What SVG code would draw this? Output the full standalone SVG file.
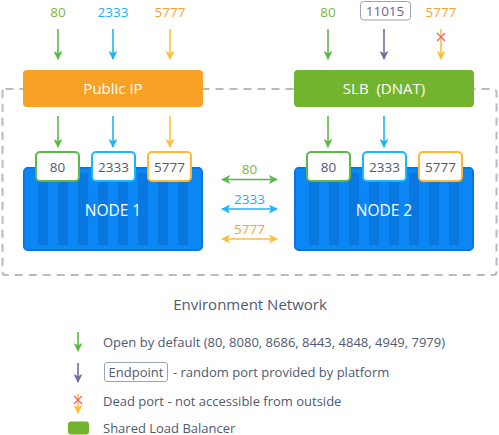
<svg xmlns="http://www.w3.org/2000/svg" width="499" height="435" viewBox="0 0 499 435">
<defs>
<style>
text{font-family:"Open Sans","Noto Sans","Liberation Sans",sans-serif;}
.lbl{font-size:13.5px;text-anchor:middle;}
.port{font-size:13.5px;text-anchor:middle;fill:#4F5A70;}
.pbox{fill:#fff;stroke-width:2;}
.node{fill:#0A86F5;stroke:#0870D8;stroke-width:1.5;}
.stripe{fill:#0877E0;}
.ntxt{font-size:15.5px;fill:#fff;text-anchor:middle;}
.btxt{font-size:15px;fill:#fff;text-anchor:middle;}
.leg{font-size:13px;fill:#4F5A70;}
.g{stroke:#5BBA47;fill:none;stroke-width:1.6;}
.b{stroke:#1EB4F8;fill:none;stroke-width:1.6;}
.o{stroke:#FFBE3A;fill:none;stroke-width:1.6;}
.p{stroke:#7B6A9E;fill:none;stroke-width:1.6;}
.x{stroke:#E8676B;stroke-width:1.3;fill:none;}
</style>
<marker id="ag" viewBox="0 0 10 10" refX="9" refY="5" markerWidth="9" markerHeight="9" orient="auto-start-reverse" markerUnits="userSpaceOnUse"><path d="M0,0 L10,5 L0,10 L2.5,5 z" fill="#5BBA47"/></marker>
<marker id="ab" viewBox="0 0 10 10" refX="9" refY="5" markerWidth="9" markerHeight="9" orient="auto-start-reverse" markerUnits="userSpaceOnUse"><path d="M0,0 L10,5 L0,10 L2.5,5 z" fill="#1EB4F8"/></marker>
<marker id="ao" viewBox="0 0 10 10" refX="9" refY="5" markerWidth="9" markerHeight="9" orient="auto-start-reverse" markerUnits="userSpaceOnUse"><path d="M0,0 L10,5 L0,10 L2.5,5 z" fill="#FFBE3A"/></marker>
<marker id="ap" viewBox="0 0 10 10" refX="9" refY="5" markerWidth="9" markerHeight="9" orient="auto-start-reverse" markerUnits="userSpaceOnUse"><path d="M0,0 L10,5 L0,10 L2.5,5 z" fill="#7B6A9E"/></marker>
<g id="stripes">
<rect class="stripe" x="0" y="0" width="10" height="72"/>
<rect class="stripe" x="20" y="0" width="10" height="72"/>
<rect class="stripe" x="40" y="0" width="10" height="72"/>
<rect class="stripe" x="60" y="0" width="10" height="72"/>
<rect class="stripe" x="80" y="0" width="10" height="72"/>
<rect class="stripe" x="100" y="0" width="10" height="72"/>
<rect class="stripe" x="120" y="0" width="10" height="72"/>
<rect class="stripe" x="140" y="0" width="10" height="72"/>
</g>
</defs>
<rect width="499" height="435" fill="#fff"/>

<g id="env">
<rect x="2.5" y="89" width="494" height="186" rx="3" fill="none" stroke="#B8B8C6" stroke-width="2" stroke-dasharray="8,6"/>
</g>

<g id="top-labels">
<text class="lbl" x="58" y="17" fill="#7AB648">80</text>
<text class="lbl" x="113" y="17" fill="#1EB0F0">2333</text>
<text class="lbl" x="170" y="17" fill="#F5A03A">5777</text>
<text class="lbl" x="328" y="17" fill="#7AB648">80</text>
<rect x="360.5" y="1.5" width="50" height="18.5" rx="3" fill="#fff" stroke="#9AA3B8" stroke-width="1"/>
<text class="lbl" x="385" y="16" fill="#6F6490">11015</text>
<text class="lbl" x="441" y="17" fill="#F5A03A">5777</text>
</g>

<g id="public-ip">
<rect x="23" y="70" width="180" height="37" rx="4" fill="#F7A125"/>
<text class="btxt" x="113" y="94">Public IP</text>
</g>

<g id="slb">
<rect x="294" y="70" width="180" height="37" rx="4" fill="#72B42D"/>
<text class="btxt" x="384" y="94" xml:space="preserve">SLB  (DNAT)</text>
</g>

<g id="node1">
<rect class="node" x="23.75" y="167.75" width="178.5" height="82.5" rx="4"/>
<use href="#stripes" x="38" y="173"/>
<text class="ntxt" x="113" y="216">NODE 1</text>
<rect class="pbox" x="36" y="152" width="43" height="29" rx="4" stroke="#5BBA47"/>
<text class="port" x="57.5" y="171.5">80</text>
<rect class="pbox" x="92" y="152" width="43" height="29" rx="4" stroke="#1AB8FA"/>
<text class="port" x="113.5" y="171.5">2333</text>
<rect class="pbox" x="148" y="152" width="43" height="29" rx="4" stroke="#FDB933"/>
<text class="port" x="169.5" y="171.5">5777</text>
</g>

<g id="node2">
<rect class="node" x="294.75" y="167.75" width="178.5" height="82.5" rx="4"/>
<use href="#stripes" x="309" y="173"/>
<text class="ntxt" x="384" y="216">NODE 2</text>
<rect class="pbox" x="307" y="152" width="43" height="29" rx="4" stroke="#5BBA47"/>
<text class="port" x="328.5" y="171.5">80</text>
<rect class="pbox" x="363" y="152" width="43" height="29" rx="4" stroke="#1AB8FA"/>
<text class="port" x="384.5" y="171.5">2333</text>
<rect class="pbox" x="419" y="152" width="43" height="29" rx="4" stroke="#FDB933"/>
<text class="port" x="440.5" y="171.5">5777</text>
</g>

<g id="connectors">
<line class="g" x1="58" y1="29" x2="58" y2="59" marker-end="url(#ag)"/>
<line class="b" x1="113" y1="29" x2="113" y2="59" marker-end="url(#ab)"/>
<line class="o" x1="170" y1="29" x2="170" y2="59" marker-end="url(#ao)"/>
<line class="g" x1="328" y1="29" x2="328" y2="59" marker-end="url(#ag)"/>
<line class="p" x1="384" y1="29" x2="384" y2="59" marker-end="url(#ap)"/>
<line class="o" x1="441" y1="29" x2="441" y2="59" marker-end="url(#ao)"/>
<path class="x" d="M437,33 L445,41 M445,33 L437,41"/>

<line class="g" x1="58" y1="116" x2="58" y2="147" marker-end="url(#ag)"/>
<line class="b" x1="113" y1="116" x2="113" y2="147" marker-end="url(#ab)"/>
<line class="o" x1="170" y1="116" x2="170" y2="147" marker-end="url(#ao)"/>
<line class="g" x1="328" y1="116" x2="328" y2="147" marker-end="url(#ag)"/>
<line class="b" x1="384" y1="116" x2="384" y2="147" marker-end="url(#ab)"/>

<line class="g" x1="222" y1="179.5" x2="277" y2="179.5" marker-start="url(#ag)" marker-end="url(#ag)"/>
<line class="b" x1="222" y1="209" x2="277" y2="209" marker-start="url(#ab)" marker-end="url(#ab)"/>
<line class="o" x1="222" y1="239" x2="277" y2="239" marker-start="url(#ao)" marker-end="url(#ao)"/>
<text class="lbl" x="249.5" y="174" fill="#7AB648">80</text>
<text class="lbl" x="249.5" y="203.5" fill="#1EB0F0">2333</text>
<text class="lbl" x="249.5" y="233.5" fill="#F5A03A">5777</text>
</g>

<g id="legend">
<text x="250" y="309.5" font-size="15" fill="#4F5A70" text-anchor="middle">Environment Network</text>
<line class="g" x1="78" y1="332" x2="78" y2="351" marker-end="url(#ag)"/>
<text class="leg" x="103" y="346.5">Open by default (80, 8080, 8686, 8443, 4848, 4949, 7979)</text>
<line class="p" x1="78" y1="363" x2="78" y2="382" marker-end="url(#ap)"/>
<rect x="104.5" y="362.5" width="63" height="19" rx="2.5" fill="#fff" stroke="#9AA3B8" stroke-width="1"/>
<text class="leg" x="136" y="376.5" text-anchor="middle">Endpoint</text>
<text class="leg" x="173" y="376.5">- random port provided by platform</text>
<line class="o" x1="78" y1="394" x2="78" y2="413" marker-end="url(#ao)"/>
<path class="x" d="M74,396 L82,404 M82,396 L74,404"/>
<text class="leg" x="103" y="405.5">Dead port - not accessible from outside</text>
<rect x="68" y="421.5" width="21" height="13" rx="3" fill="#72B42D"/>
<text class="leg" x="103" y="432.5">Shared Load Balancer</text>
</g>
</svg>
